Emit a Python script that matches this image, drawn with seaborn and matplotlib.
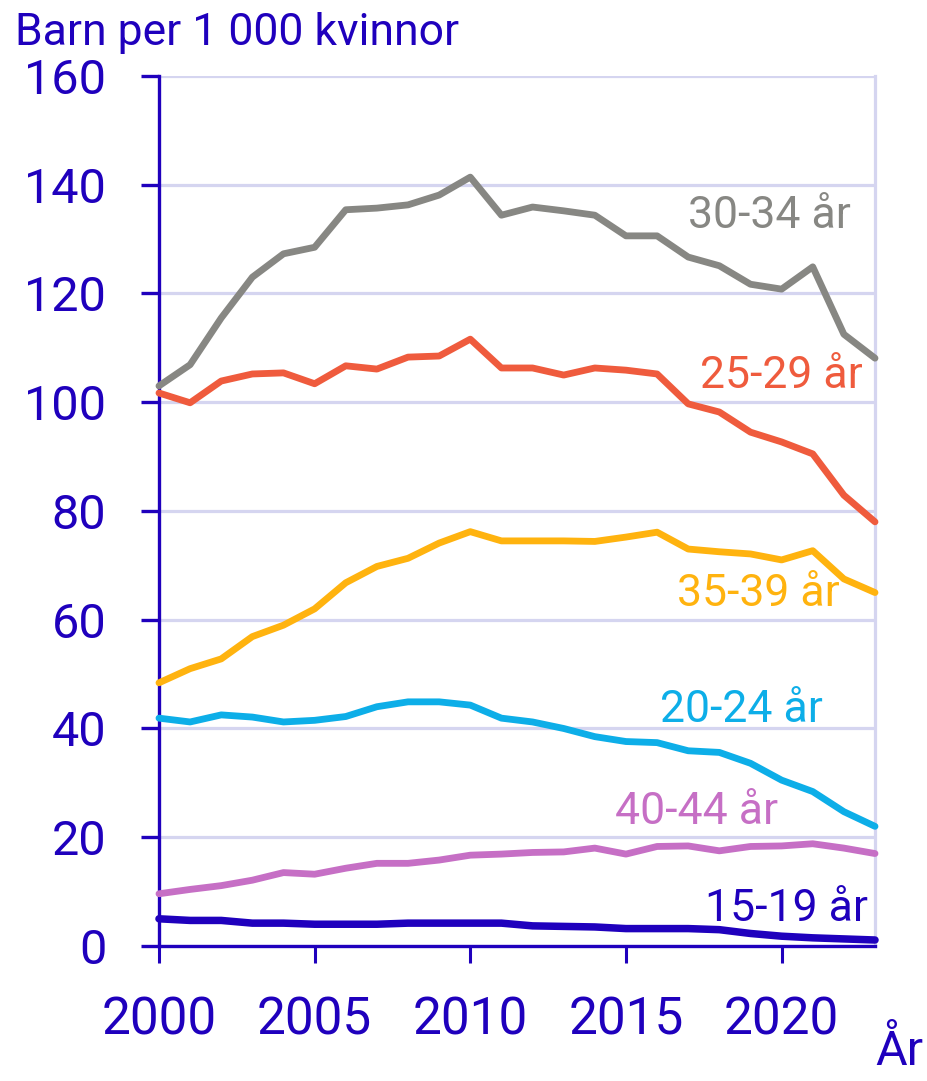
import numpy as np
import pandas as pd
import seaborn as sns
import matplotlib.pyplot as plt

# Fruktsamhet per åldersgrupp, barn per 1 000 kvinnor
years = list(range(2000, 2024))

age_15_19 = [5.0, 4.7, 4.7, 4.2, 4.2, 4.0, 4.0, 4.0, 4.2, 4.2, 4.2, 4.2,
             3.7, 3.6, 3.5, 3.2, 3.2, 3.2, 3.0, 2.3, 1.8, 1.5, 1.3, 1.1]
age_20_24 = [41.9, 41.2, 42.5, 42.1, 41.2, 41.5, 42.2, 44.0, 44.9, 44.9, 44.3, 41.9,
             41.2, 40.0, 38.5, 37.6, 37.4, 35.9, 35.6, 33.6, 30.5, 28.4, 24.7, 22.0]
age_25_29 = [101.7, 99.9, 103.9, 105.2, 105.4, 103.4, 106.7, 106.1, 108.3, 108.5, 111.6, 106.3,
             106.3, 105.0, 106.3, 105.9, 105.2, 99.7, 98.2, 94.5, 92.7, 90.5, 82.9, 78.0]
age_30_34 = [103.0, 106.9, 115.5, 123.0, 127.3, 128.5, 135.4, 135.7, 136.3, 138.1, 141.4, 134.4,
             135.9, 135.2, 134.4, 130.6, 130.6, 126.7, 125.1, 121.7, 120.8, 124.9, 112.5, 108.1]
age_35_39 = [48.4, 51.0, 52.8, 56.9, 59.0, 62.0, 66.8, 69.8, 71.3, 74.1, 76.2, 74.5,
             74.5, 74.5, 74.4, 75.2, 76.1, 73.0, 72.5, 72.1, 71.0, 72.7, 67.5, 65.0]
age_40_44 = [9.6, 10.4, 11.1, 12.1, 13.5, 13.2, 14.3, 15.2, 15.2, 15.8, 16.7, 16.9,
             17.2, 17.3, 18.0, 16.9, 18.3, 18.4, 17.5, 18.3, 18.4, 18.8, 18.0, 17.0]

labels = ["15-19 år", "20-24 år", "25-29 år", "30-34 år", "35-39 år", "40-44 år"]
series = [age_15_19, age_20_24, age_25_29, age_30_34, age_35_39, age_40_44]
colors = ["#1F00BD", "#0DAEE8", "#EF5B3D", "#878783", "#FFB30F", "#C66FC5"]

navy = "#1F00BD"
grid_col = "#D5D5F0"

sns.set_theme(style="white")
plt.rcParams["font.family"] = ["Roboto", "DejaVu Sans"]

fig = plt.figure(figsize=(9.28, 10.81), dpi=100)
ax = fig.add_axes([0.1713, 0.1249, 0.7716, 0.8048])

for lab, vals, col in zip(labels, series, colors):
    lw = 5.4 if lab == "15-19 år" else 4.9
    sns.lineplot(x=years, y=vals, color=col, lw=lw, ax=ax, legend=False)
for ln in ax.lines:
    ln.set_solid_capstyle("round")
    ln.set_solid_joinstyle("round")
    ln.set_clip_on(False)
    ln.set_zorder(3)

ax.set_xlim(2000, 2023)
ax.set_ylim(0, 160)
ax.set_xticks([2000, 2005, 2010, 2015, 2020])
ax.set_yticks(range(0, 161, 20))
ax.yaxis.grid(True, color=grid_col, lw=2.3)
ax.xaxis.grid(False)
ax.set_axisbelow(True)

ax.spines["top"].set_visible(False)
ax.spines["right"].set_color(grid_col)
ax.spines["right"].set_linewidth(2.3)
ax.spines["left"].set_color(navy)
ax.spines["left"].set_linewidth(2.4)
ax.spines["bottom"].set_color(navy)
ax.spines["bottom"].set_linewidth(2.4)

ax.tick_params(axis="y", direction="out", length=13, width=2.4, color=navy,
               labelcolor=navy, labelsize=35, pad=25, left=True)
ax.tick_params(axis="x", direction="out", length=12, width=2.2, color=navy,
               labelcolor=navy, labelsize=37, pad=24, bottom=True)
ax.set_xlabel("")
ax.set_ylabel("")

# etiketter vid linjerna (högerjusterade)
label_pos = {
    "30-34 år": (2022.23, 132.0),
    "25-29 år": (2022.62, 102.6),
    "35-39 år": (2021.88, 62.5),
    "20-24 år": (2021.33, 41.2),
    "40-44 år": (2019.88, 22.4),
    "15-19 år": (2022.78, 4.6),
}
for lab, col in zip(labels, colors):
    x, y = label_pos[lab]
    ax.text(x, y, lab, color=col, fontsize=32, ha="right", va="baseline", zorder=4)

fig.text(0.016, 0.958, "Barn per 1 000 kvinnor", color=navy, fontsize=32,
         ha="left", va="baseline")
fig.text(0.995, 0.006, "År", color=navy, fontsize=35, ha="right", va="bottom")

fig.savefig("out.png", dpi=100)
